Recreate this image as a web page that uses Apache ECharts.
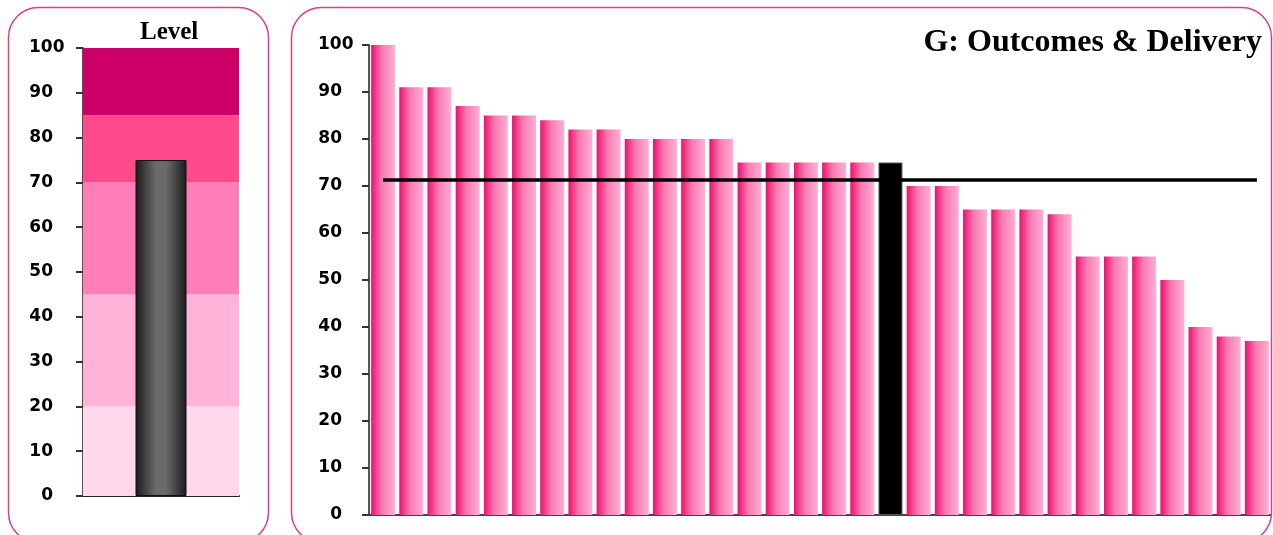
<!DOCTYPE html>
<html>
<head>
<meta charset="utf-8">
<title>G: Outcomes &amp; Delivery</title>
<script src="https://cdn.jsdelivr.net/npm/echarts@6/dist/echarts.min.js"></script>
<style>
  html, body { margin: 0; padding: 0; background: #ffffff; }
  #chart { width: 1273px; height: 535px; }
</style>
</head>
<body>
<div id="chart"></div>
<script>
// Level gauge: band edges and their fills, plus the organisation's own score
const levelBandEdges = [0, 20, 45, 70, 85, 100];
const levelBandColors = ['#FFD9EB', '#FFB3D9', '#FF7DB8', '#FF4A8D', '#CC0066'];
const levelCategory = ['Level'];
const levelScore = [75];

// Ranked scores of all organisations (the highlighted one is drawn in black)
const orgCategories = ['1', '2', '3', '4', '5', '6', '7', '8', '9', '10', '11', '12', '13', '14', '15', '16',
  '17', '18', '19', '20', '21', '22', '23', '24', '25', '26', '27', '28', '29', '30', '31', '32'];
const orgScores = [100, 91, 91, 87, 85, 85, 84, 82, 82, 80, 80, 80, 80, 75, 75, 75,
  75, 75, 75, 70, 70, 65, 65, 65, 64, 55, 55, 55, 50, 40, 38, 37];
const highlightIndex = 18;
const averageScore = 71.4;

// Y axis tick labels (shared by both panels)
const yTicks = ['0', '10', '20', '30', '40', '50', '60', '70', '80', '90', '100'];

const chart = echarts.init(document.getElementById('chart'), null, { renderer: 'canvas' });

// Tick labels sit in a two-digit-wide box; "100" runs past its right edge
const tickLabel = margin => ({
  margin: margin,
  fontFamily: 'DejaVu Sans',
  fontWeight: 'bold',
  fontSize: 17,
  color: '#000000',
  formatter: v => {
    const t = yTicks[v / 10];
    return t.length > 2 ? '{wide|' + t + '}' : t;
  },
  rich: {
    wide: {
      width: 24,
      align: 'left',
      fontFamily: 'DejaVu Sans',
      fontWeight: 'bold',
      fontSize: 17,
      color: '#000000'
    }
  }
});

const pinkGradient = new echarts.graphic.LinearGradient(0, 0, 1, 0, [
  { offset: 0, color: '#EC1070' },
  { offset: 0.45, color: '#F97AB2' },
  { offset: 1, color: '#FFB0D6' }
]);

const greyGradient = new echarts.graphic.LinearGradient(0, 0, 1, 0, [
  { offset: 0, color: '#1A1A1A' },
  { offset: 0.4, color: '#6A6A6A' },
  { offset: 0.6, color: '#6A6A6A' },
  { offset: 1, color: '#1A1A1A' }
]);

const bandAreas = levelBandColors.map((c, i) => [
  { yAxis: levelBandEdges[i], itemStyle: { color: c } },
  { yAxis: levelBandEdges[i + 1] }
]);

const orgData = orgScores.map((v, i) => i === highlightIndex
  ? { value: v, itemStyle: { color: '#000000', borderColor: '#555555', borderWidth: 1 } }
  : v);

const yAxisCommon = {
  type: 'value',
  min: 0,
  max: 100,
  interval: 10,
  axisLine: { show: true, lineStyle: { color: '#555555', width: 2 } },
  axisTick: { show: true, length: 7, lineStyle: { color: '#333333', width: 2 } },
  splitLine: { show: false }
};

chart.setOption({
  animation: false,
  backgroundColor: '#ffffff',
  title: [
    {
      text: 'Level',
      left: 135,
      top: 15,
      textStyle: { fontFamily: 'Liberation Serif', fontWeight: 'bold', fontSize: 25, color: '#000000' }
    },
    {
      text: 'G: Outcomes & Delivery',
      right: 6,
      top: 22,
      textStyle: { fontFamily: 'Liberation Serif', fontWeight: 'bold', fontSize: 32, color: '#000000' }
    }
  ],
  graphic: [
    {
      type: 'rect',
      shape: { x: 8.5, y: 7.5, width: 260, height: 535, r: 30 },
      style: { fill: null, stroke: '#DA3F8A', lineWidth: 1.5 },
      z: 100
    },
    {
      type: 'rect',
      shape: { x: 291.5, y: 7.5, width: 980, height: 535, r: 30 },
      style: { fill: null, stroke: '#DA3F8A', lineWidth: 1.5 },
      z: 100
    }
  ],
  grid: [
    { left: 83, top: 48, width: 156, height: 448 },
    { left: 369, top: 45, width: 902, height: 470 }
  ],
  xAxis: [
    {
      gridIndex: 0,
      type: 'category',
      data: levelCategory,
      axisLine: { show: true, lineStyle: { color: '#222222', width: 2 } },
      axisTick: { show: false },
      axisLabel: { show: false }
    },
    {
      gridIndex: 1,
      type: 'category',
      data: orgCategories,
      axisLine: { show: true, lineStyle: { color: '#444444', width: 2 } },
      axisTick: { show: false },
      axisLabel: { show: false }
    }
  ],
  yAxis: [
    Object.assign({ gridIndex: 0, axisLabel: tickLabel(30) }, yAxisCommon),
    Object.assign({ gridIndex: 1, axisLabel: tickLabel(27) }, yAxisCommon)
  ],
  series: [
    {
      name: 'Level',
      type: 'bar',
      xAxisIndex: 0,
      yAxisIndex: 0,
      data: levelScore,
      barWidth: 51,
      itemStyle: { color: greyGradient, borderColor: '#111111', borderWidth: 1 },
      markArea: { silent: true, data: bandAreas },
      z: 3
    },
    {
      name: 'Score',
      type: 'bar',
      xAxisIndex: 1,
      yAxisIndex: 1,
      data: orgData,
      barCategoryGap: '15%',
      itemStyle: { color: pinkGradient },
      markLine: {
        silent: true,
        symbol: ['none', 'none'],
        label: { show: false },
        lineStyle: { color: '#000000', width: 3.5, type: 'solid' },
        data: [[{ coord: [0, averageScore] }, { coord: [orgCategories.length - 1, averageScore] }]]
      }
    }
  ]
});
</script>
</body>
</html>
